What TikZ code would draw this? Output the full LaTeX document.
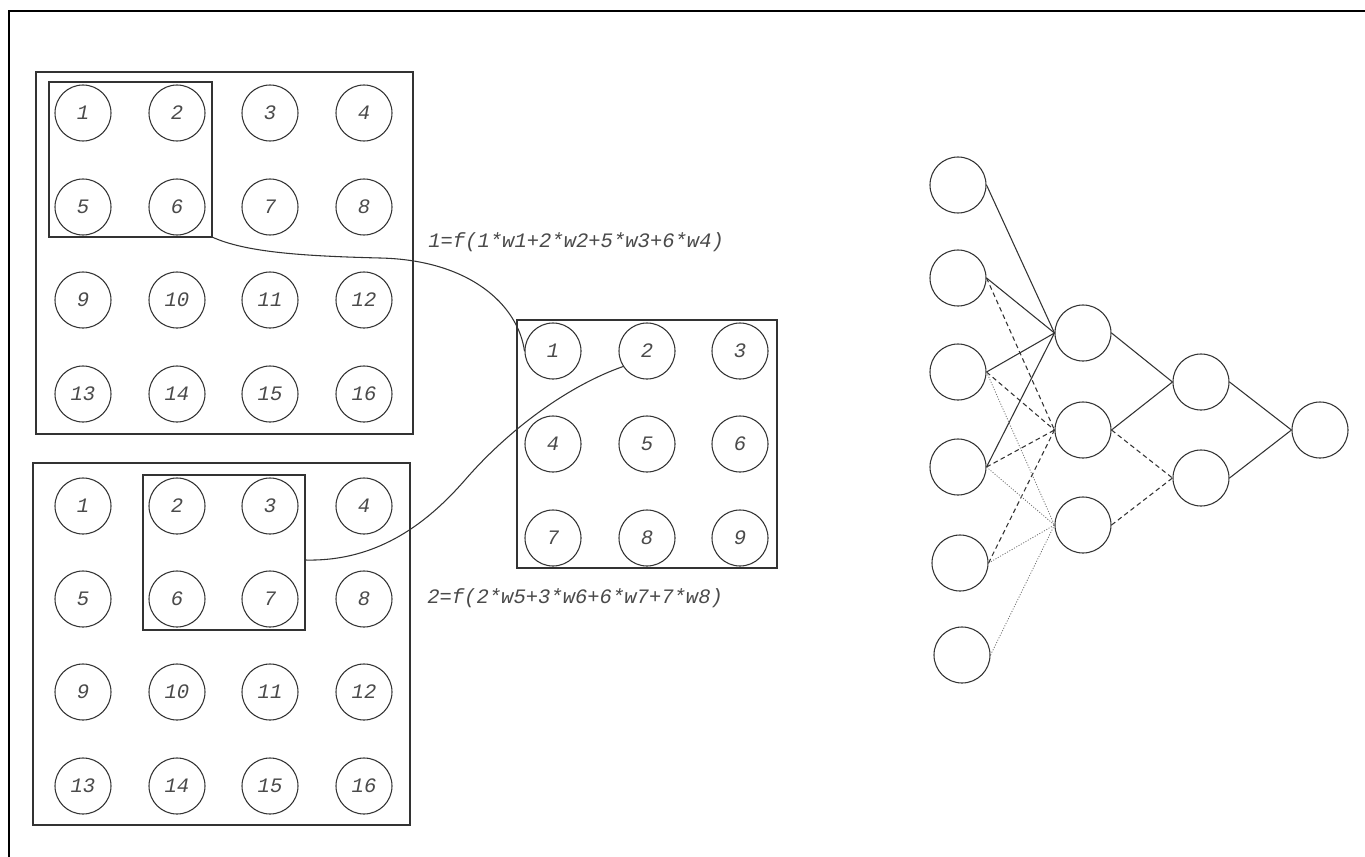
\documentclass[tikz,border=0pt]{standalone}
\usepackage{fontspec}
\newfontfamily\codefont{Liberation Mono}
\usetikzlibrary{calc}
\definecolor{linec}{HTML}{333333}
\definecolor{textc}{HTML}{4A4A4A}
\newcommand{\numfont}{\codefont\itshape\fontsize{15.4pt}{18pt}\selectfont}

\begin{document}
\begin{tikzpicture}[x=0.75pt,y=-0.75pt,
  unit/.style={circle,draw=linec,line width=0.8pt,minimum size=42pt,inner sep=0pt,
    font=\numfont,text=textc},
  frame/.style 2 args={rectangle,draw=linec,line width=0.8pt,inner sep=0pt,outer sep=0pt,
    minimum width=#1*0.75pt,minimum height=#2*0.75pt},
  formula/.style={font=\numfont,text=textc,inner sep=0pt,anchor=west},
  link/.style={draw=linec,line width=0.8pt},
  solidlink/.style={link},
  dashlink/.style={link,dash pattern=on 3.5pt off 2.5pt},
  dotlink/.style={draw=linec!70,line width=0.6pt,dash pattern=on 0.8pt off 1.2pt}]
\useasboundingbox (0,0) rectangle (1365,857);

% page frame
\draw[line width=1.8pt] (9,857) -- (9,11) -- (1365,11);

% first 4x4 input grid
\node[frame={377}{362}] (boxa) at (224.5,253) {};
\node[frame={163}{155}] (boxain) at (130.5,159.5) {};
\foreach \r/\y in {0/113,1/207,2/300,3/394}
  \foreach \c/\x in {0/83,1/177,2/270,3/364}{
    \pgfmathtruncatemacro\k{4*\r+\c+1}
    \node[unit] (ga\k) at (\x,\y) {\k};
  }

% second 4x4 input grid
\node[frame={377}{362}] (boxb) at (221.5,644) {};
\node[frame={162}{155}] (boxbin) at (224,552.5) {};
\foreach \r/\y in {0/506,1/599,2/692,3/786}
  \foreach \c/\x in {0/83,1/177,2/270,3/364}{
    \pgfmathtruncatemacro\k{4*\r+\c+1}
    \node[unit] (gb\k) at (\x,\y) {\k};
  }

% 3x3 output grid
\node[frame={260}{248}] (boxc) at (647,444) {};
\foreach \r/\y in {0/351,1/444,2/538}
  \foreach \c/\x in {0/553,1/647,2/740}{
    \pgfmathtruncatemacro\k{3*\r+\c+1}
    \node[unit] (c\k) at (\x,\y) {\k};
  }

% formulas
\node[formula] (fa) at (428,242) {1=f(1*w1+2*w2+5*w3+6*w4)};
\node[formula] (fb) at (427,598) {2=f(2*w5+3*w6+6*w7+7*w8)};

% receptive field connectors
\coordinate (ma) at (380,258);
\draw[link] (boxain.south east) .. controls (245,252) and (300,256) .. (ma)
  .. controls (470,260) and (518,305) .. (c1.west);
\coordinate (sb) at ($(boxbin.east)+(0,7.5)$);
\coordinate (mb) at (465,480);
\draw[link] (sb) .. controls (380,562) and (430,520) .. (mb)
  .. controls (510,428) and (570,385) .. (c2.213);

% network
\node[unit] (i1) at (958,185) {};
\node[unit] (i2) at (958,278) {};
\node[unit] (i3) at (958,372) {};
\node[unit] (i4) at (958,467) {};
\node[unit] (i5) at (960,563) {};
\node[unit] (i6) at (962,655) {};
\node[unit] (h1) at (1083,333) {};
\node[unit] (h2) at (1083,430) {};
\node[unit] (h3) at (1083,525) {};
\node[unit] (k1) at (1201,382) {};
\node[unit] (k2) at (1201,478) {};
\node[unit] (out) at (1320,430) {};

\foreach \a/\b in {i1/h1,i2/h1,i3/h1,i4/h1,h1/k1,h2/k1,k1/out,k2/out}
  \draw[solidlink] (\a.east) -- (\b.west);
\foreach \a/\b in {i2/h2,i3/h2,i4/h2,i5/h2,h2/k2,h3/k2}
  \draw[dashlink] (\a.east) -- (\b.west);
\foreach \a/\b in {i3/h3,i4/h3,i5/h3,i6/h3}
  \draw[dotlink] (\a.east) -- (\b.west);
\end{tikzpicture}
\end{document}
